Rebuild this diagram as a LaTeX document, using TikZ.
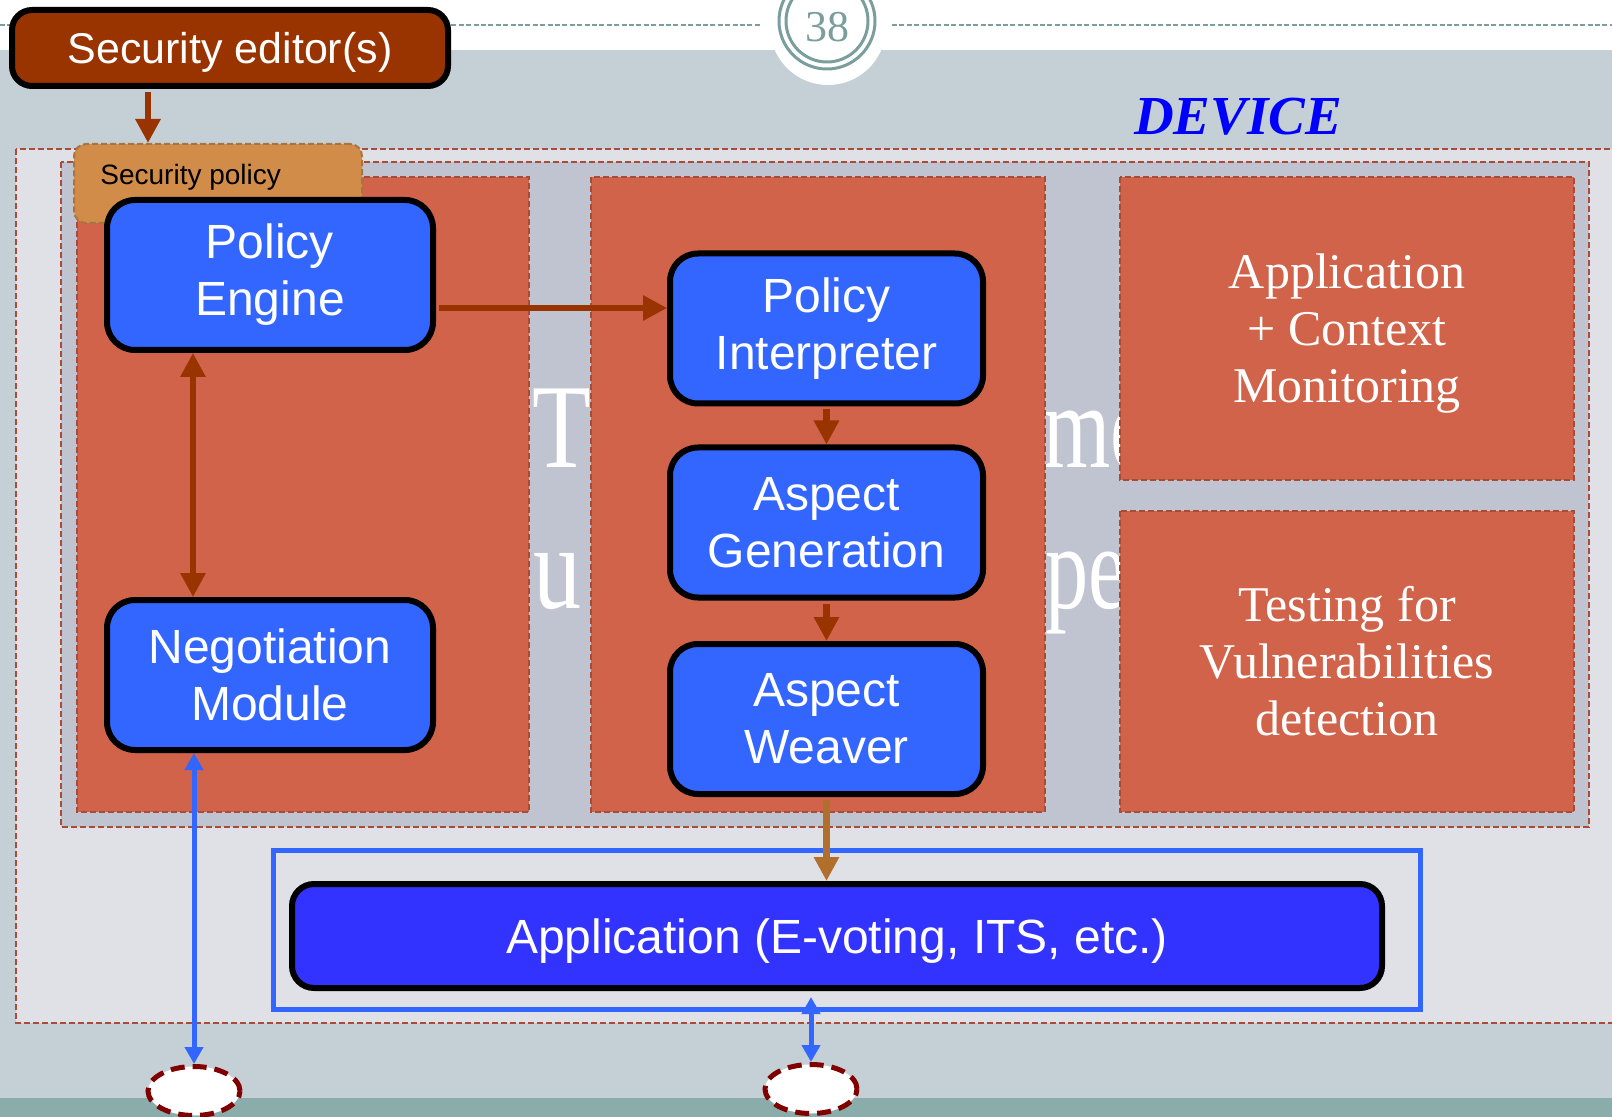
\documentclass[tikz,border=0pt]{standalone}
\usepackage{fontspec}
\setmainfont{Liberation Sans}
\newfontfamily\serifface{Liberation Serif}
\usetikzlibrary{arrows.meta,shapes.geometric}

\definecolor{bandgray}{HTML}{C5D0D6}
\definecolor{stripteal}{HTML}{8AACAB}
\definecolor{ringteal}{HTML}{7A9E9C}
\definecolor{outerfill}{HTML}{E0E1E6}
\definecolor{innerfill}{HTML}{C0C4D0}
\definecolor{colfill}{HTML}{D1634A}
\definecolor{dashred}{HTML}{A84C38}
\definecolor{rust}{HTML}{993300}
\definecolor{ochre}{HTML}{B0702C}
\definecolor{boxblue}{HTML}{3366FF}
\definecolor{appblue}{HTML}{3333FF}
\definecolor{policyorange}{HTML}{D08C48}
\definecolor{policyedge}{HTML}{A8743F}
\definecolor{ellred}{HTML}{800000}
\definecolor{devblue}{HTML}{0000FF}

\begin{document}
\begin{tikzpicture}[x=0.5pt,y=-0.5pt,
  box/.style={draw=black, line width=3pt, fill=boxblue, rounded corners=14pt,
    text=white, font=\fontsize{24}{28.5}\selectfont, align=center,
    inner sep=0pt, minimum height=75pt},
  leftbox/.style={box, minimum width=163pt},
  rightbox/.style={box, minimum width=156.5pt},
  rustarrow/.style={draw=rust, line width=3.25pt, -{Triangle[width=12pt,length=12pt]}},
  rustboth/.style={draw=rust, line width=3.25pt,
    {Triangle[width=12pt,length=12pt]}-{Triangle[width=12pt,length=12pt]}},
  blueboth/.style={draw=boxblue, line width=2.5pt,
    {Triangle[width=9pt,length=8.5pt]}-{Triangle[width=9pt,length=8.5pt]}},
  port/.style={ellipse, draw=ellred, fill=white, line width=2.5pt,
    dash pattern=on 7pt off 4pt, minimum width=46pt, minimum height=24.5pt, inner sep=0pt},
  panel/.style={fill=colfill, draw=dashred, line width=1pt, dash pattern=on 3pt off 1.5pt},
  framebox/.style={draw=dashred, line width=1pt, dash pattern=on 3pt off 1.5pt},
  sidetext/.style={text=white, font=\serifface\fontsize{25}{28.5}\selectfont, align=center},
  bgletters/.style={text=white, font=\serifface\fontsize{60}{60}\selectfont,
    inner sep=0pt, anchor=base west}
]
\useasboundingbox (0,0) rectangle (1612,1117);
\clip (0,0) rectangle (1612,1117);

% slide backdrop
\fill[white] (0,0) rectangle (1612,1117);
\fill[bandgray] (0,50) rectangle (1612,1098);
\fill[stripteal] (0,1098) rectangle (1612,1117);
\draw[ringteal, line width=1pt, dash pattern=on 2.5pt off 1.2pt]
  (0,25) -- (762,25) (892,25) -- (1612,25);
\fill[white] (828,27) circle (58);
\draw[ringteal, line width=1.5pt] (827,21) circle (48);
\draw[ringteal, line width=1.5pt] (827,21) circle (41);
\node[text=ringteal, font=\serifface\fontsize{22}{22}\selectfont, inner sep=0pt]
  (pagenum) at (827,27) {38};

% device frame and inner platform
\draw[framebox, fill=outerfill] (16,149) rectangle (1640,1023);
\draw[framebox, fill=innerfill] (61,162) rectangle (1589,827);

% title letters showing between the panels
\node[bgletters] (wmT) at (532,468) {\scalebox{0.8}[1]{T}};
\node[bgletters] (wmU) at (533,608) {\scalebox{0.8}[1]{u}};
\node[bgletters] (wmM) at (1043,467) {\scalebox{0.72}[1]{me}};
\node[bgletters] (wmP) at (1045,608) {\scalebox{0.72}[1]{pe}};

% panels
\draw[panel] (77,177) rectangle (529,812);
\draw[panel] (591,177) rectangle (1045,812);
\draw[panel] (1120,177) rectangle (1574,480);
\draw[panel] (1120,511) rectangle (1574,812);

\node[text=devblue, font=\serifface\bfseries\itshape\fontsize{27.5}{27.5}\selectfont,
  inner sep=0pt, anchor=base] (devlabel) at (1238,135) {DEVICE};

\node[sidetext] (monitor) at (1347,334) {Application\\+ Context\\Monitoring};
\node[sidetext] (testing) at (1347,661) {Testing for\\Vulnerabilities\\detection};

% security policy tab
\node[draw=policyedge, fill=policyorange, line width=1pt, dash pattern=on 3pt off 1.5pt,
  rounded corners=6pt, minimum width=144pt, minimum height=39.5pt, inner sep=0pt]
  (sp) at (218,183.5) {};
\node[anchor=base west, font=\fontsize{14}{14}\selectfont, inner sep=0pt]
  (sptitle) at (100,185) {Security policy};

% component boxes
\node[leftbox] (pe) at (270,275) {Policy\\Engine};
\node[leftbox] (nm) at (270,675) {Negotiation\\Module};
\node[rightbox] (pi) at (826.5,328.5) {Policy\\Interpreter};
\node[rightbox] (ag) at (826.5,522.5) {Aspect\\Generation};
\node[rightbox] (aw) at (826.5,719) {Aspect\\Weaver};

\node[draw=boxblue, line width=2.5pt, minimum width=573.5pt, minimum height=79.5pt,
  inner sep=0pt] (appframe) at (847,930) {};
\node[draw=black, line width=3pt, fill=appblue, rounded corners=11pt, text=white,
  font=\fontsize{24}{28.5}\selectfont, minimum width=545pt, minimum height=52pt,
  text depth=0pt, inner sep=0pt] (app) at (837,936) {Application (E-voting, ITS, etc.)};

\node[draw=black, line width=3pt, fill=rust, rounded corners=10pt, text=white,
  font=\fontsize{21.5}{24}\selectfont, minimum width=218pt, minimum height=38pt,
  text depth=0pt, inner sep=0pt] (se) at (230,48) {Security editor(s)};

% external ports
\node[port] (portL) at (194,1091) {};
\node[port] (portM) at (811,1089) {};

% connectors
\coordinate (sefeed) at ([xshift=-41pt]se.south);
\draw[rustarrow, shorten <=1.5pt] (sefeed) -- (sefeed |- sp.north);

\coordinate (peout) at ([yshift=-16.5pt]pe.east);
\draw[rustarrow, shorten <=1.5pt] (peout) -- (peout -| pi.west);

\coordinate (pelink) at ([xshift=-38.5pt]pe.south);
\draw[rustboth] (pelink) -- (pelink |- nm.north);

\draw[rustarrow, shorten <=1.5pt] (pi.south) -- (ag.north);
\draw[rustarrow, shorten <=1.5pt] (ag.south) -- (aw.north);
\draw[draw=ochre, line width=3.25pt, -{Triangle[width=12pt,length=12pt]}, shorten <=1.5pt]
  (aw.south) -- (aw.south |- app.north);

\draw[blueboth] (portL.north |- nm.south) -- (portL.north);
\draw[blueboth, shorten <=3pt] (portM.north |- app.south) -- (portM.north);
\end{tikzpicture}
\end{document}
